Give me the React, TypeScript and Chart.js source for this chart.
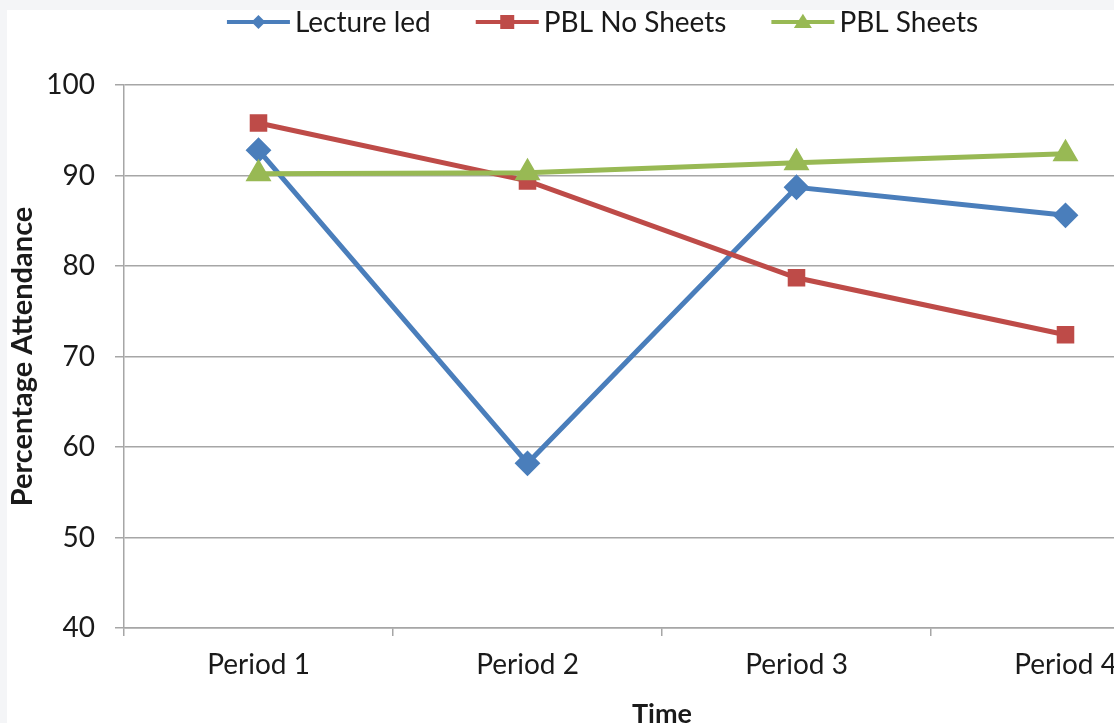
import React, { useEffect, useRef } from 'react';
import { Chart, registerables } from 'chart.js';

Chart.register(...registerables);

const categories = ['Period 1', 'Period 2', 'Period 3', 'Period 4'];
const lectureLed = [92.8, 58.2, 88.7, 85.6];
const pblNoSheets = [95.8, 89.4, 78.7, 72.4];
const pblSheets = [90.2, 90.3, 91.4, 92.4];
const seriesNames = ['Lecture led', 'PBL No Sheets', 'PBL Sheets'];
const yTickValues = [40, 50, 60, 70, 80, 90, 100];
const xTitle = 'Time';
const yTitle = 'Percentage Attendance';

const FONT = 'Lato, "Open Sans", sans-serif';
const TEXT = '#1a1a1a';
const GRID = '#a6a6a6';
const COLORS = ['#4a7ebb', '#be4b48', '#98b954'];
const TICK_SIZE = 28;

function drawMarker(ctx: CanvasRenderingContext2D, style: string, x: number, y: number, r: number, color: string) {
  ctx.save();
  ctx.fillStyle = color;
  ctx.beginPath();
  if (style === 'rectRot') {
    ctx.moveTo(x, y - r);
    ctx.lineTo(x + r, y);
    ctx.lineTo(x, y + r);
    ctx.lineTo(x - r, y);
  } else if (style === 'rect') {
    ctx.rect(x - r, y - r, 2 * r, 2 * r);
  } else {
    const h = r * 1.5;
    ctx.moveTo(x, y - h * 0.62);
    ctx.lineTo(x + r, y + h * 0.45);
    ctx.lineTo(x - r, y + h * 0.45);
  }
  ctx.closePath();
  ctx.fill();
  ctx.restore();
}

const legendPlugin = {
  id: 'lineLegend',
  afterDraw(chart: any) {
    const ctx: CanvasRenderingContext2D = chart.ctx;
    ctx.save();
    ctx.font = `${TICK_SIZE}px ${FONT}`;
    ctx.textBaseline = 'middle';
    ctx.textAlign = 'left';
    const lineLen = 63;
    const gapText = 5;
    const gapItem = 45;
    const sizes = [7, 7, 9];
    const items = chart.data.datasets.map((ds: any) => ({
      label: ds.label,
      color: ds.borderColor,
      style: ds.pointStyle,
      w: ctx.measureText(ds.label).width,
    }));
    const total = items.reduce((s: number, it: any) => s + lineLen + gapText + it.w, 0) + gapItem * (items.length - 1);
    let x = 595.5 - total / 2;
    const y = 12;
    items.forEach((it: any, i: number) => {
      ctx.strokeStyle = it.color;
      ctx.lineWidth = 4;
      ctx.beginPath();
      ctx.moveTo(x, y);
      ctx.lineTo(x + lineLen, y);
      ctx.stroke();
      drawMarker(ctx, it.style, x + lineLen / 2, y, sizes[i], it.color);
      ctx.fillStyle = TEXT;
      ctx.fillText(it.label, x + lineLen + gapText, y + 1);
      x += lineLen + gapText + it.w + gapItem;
    });
    ctx.restore();
  },
};

export default function App() {
  const canvasRef = useRef<HTMLCanvasElement | null>(null);

  useEffect(() => {
    document.documentElement.style.overflow = 'hidden';
    document.body.style.background = '#f4f5f7';
    const canvas = canvasRef.current;
    if (!canvas) return;
    const chart = new Chart(canvas, {
      type: 'line',
      data: {
        labels: categories,
        datasets: [
          {
            label: seriesNames[0],
            data: lectureLed,
            borderColor: COLORS[0],
            backgroundColor: COLORS[0],
            borderWidth: 5,
            pointStyle: 'rectRot',
            pointRadius: 11.5,
            pointBorderWidth: 2,
            order: 3,
          },
          {
            label: seriesNames[1],
            data: pblNoSheets,
            borderColor: COLORS[1],
            backgroundColor: COLORS[1],
            borderWidth: 5,
            pointStyle: 'rect',
            pointRadius: 11,
            pointBorderWidth: 2,
            order: 2,
          },
          {
            label: seriesNames[2],
            data: pblSheets,
            borderColor: COLORS[2],
            backgroundColor: COLORS[2],
            borderWidth: 5,
            pointStyle: 'triangle',
            pointRadius: 13,
            pointBorderWidth: 2,
            order: 1,
          },
        ],
      },
      options: {
        responsive: false,
        animation: false,
        layout: { padding: { top: 75, right: 17, left: 0, bottom: 0 } },
        plugins: {
          legend: { display: false },
          tooltip: { enabled: false },
        },
        scales: {
          x: {
            type: 'category',
            offset: true,
            grid: {
              offset: true,
              drawOnChartArea: false,
              drawTicks: true,
              tickLength: 8,
              color: GRID,
              lineWidth: 1.5,
            },
            border: { display: true, color: GRID, width: 1.5 },
            ticks: {
              color: TEXT,
              font: { family: FONT, size: TICK_SIZE },
              padding: 12,
              maxRotation: 0,
            },
            title: {
              display: true,
              text: xTitle,
              color: TEXT,
              font: { family: FONT, size: 27, weight: 'bold', lineHeight: 1.2 },
              padding: { top: 0, bottom: 0 },
            },
            afterFit: (s: any) => {
              s.height = 102;
            },
          },
          y: {
            min: 40,
            max: 100,
            grid: {
              color: GRID,
              lineWidth: 1.5,
              drawTicks: true,
              tickLength: 9,
            },
            border: { display: true, color: GRID, width: 1.5 },
            afterBuildTicks: (s: any) => {
              s.ticks = yTickValues.map((v) => ({ value: v }));
            },
            ticks: {
              color: TEXT,
              font: { family: FONT, size: TICK_SIZE },
              padding: 20,
            },
            title: {
              display: true,
              text: yTitle,
              color: TEXT,
              font: { family: FONT, size: 29, weight: 'bold', lineHeight: 1.1 },
              padding: { top: 0, bottom: 0 },
            },
            afterFit: (s: any) => {
              s.width = 117;
            },
          },
        },
      },
      plugins: [legendPlugin],
    });
    return () => chart.destroy();
  }, []);

  return (
    <div style={{ position: 'fixed', left: 7, top: 10, width: 1210, height: 720, background: '#ffffff' }}>
      <canvas ref={canvasRef} width={1210} height={720} style={{ display: 'block' }} />
    </div>
  );
}
